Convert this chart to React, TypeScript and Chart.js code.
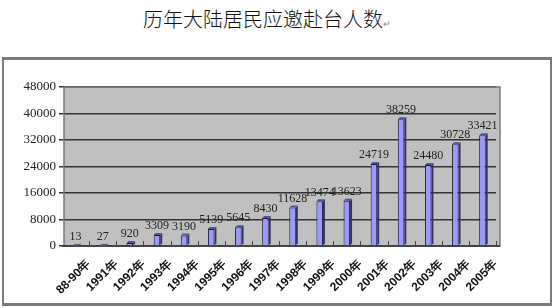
import React, { useEffect, useRef } from "react";
import { Chart, registerables } from "chart.js";

Chart.register(...registerables);

const categories = ["88-90年", "1991年", "1992年", "1993年", "1994年", "1995年", "1996年", "1997年", "1998年", "1999年", "2000年", "2001年", "2002年", "2003年", "2004年", "2005年"];
const visitors = [13, 27, 920, 3309, 3190, 5139, 5645, 8430, 11628, 13474, 13623, 24719, 38259, 24480, 30728, 33421];
const yTicks = [0, 8000, 16000, 24000, 32000, 40000, 48000];
const titleText = "历年大陆居民应邀赴台人数";

const bgPlugin = {
  id: "bgPlugin",
  beforeDraw(chart: any) {
    const { ctx, chartArea: a } = chart;
    ctx.save();
    ctx.fillStyle = "#c0c0c0";
    ctx.fillRect(a.left + 2, a.top, a.right - a.left + 2, a.bottom - a.top);
    ctx.restore();
  },
  beforeDatasetsDraw(chart: any) {
    const { ctx, chartArea: a } = chart;
    ctx.save();
    ctx.strokeStyle = "#7a7a7a";
    ctx.lineWidth = 1.5;
    ctx.strokeRect(a.left + 2, a.top, a.right - a.left + 2, a.bottom - a.top);
    ctx.strokeStyle = "#333";
    ctx.lineWidth = 1.5;
    ctx.beginPath();
    ctx.moveTo(a.left, a.bottom);
    ctx.lineTo(a.right + 4, a.bottom);
    ctx.stroke();
    const xs = chart.scales.x;
    const n = chart.data.labels.length;
    const half = (xs.getPixelForTick(1) - xs.getPixelForTick(0)) / 2;
    ctx.strokeStyle = "#444";
    ctx.lineWidth = 1;
    for (let i = 0; i < n; i++) {
      const x = Math.round(xs.getPixelForTick(i) + half) + 0.5;
      ctx.beginPath();
      ctx.moveTo(x, a.bottom - 5);
      ctx.lineTo(x, a.bottom);
      ctx.stroke();
    }
    ctx.restore();
  },
};

const barDecor = {
  id: "barDecor",
  afterDatasetsDraw(chart: any) {
    const { ctx } = chart;
    const meta = chart.getDatasetMeta(0);
    const data = chart.data.datasets[0].data as number[];
    ctx.save();
    meta.data.forEach((bar: any, i: number) => {
      const w = bar.width;
      const right = bar.x + w / 2;
      const top = bar.y;
      const base = bar.base;
      const d = 2;
      ctx.fillStyle = "#34345e";
      ctx.beginPath();
      ctx.moveTo(right, top);
      ctx.lineTo(right + d, top - d);
      ctx.lineTo(right + d, base - d);
      ctx.lineTo(right, base);
      ctx.closePath();
      ctx.fill();
      ctx.fillStyle = "#55558c";
      ctx.beginPath();
      ctx.moveTo(bar.x - w / 2, top);
      ctx.lineTo(bar.x - w / 2 + d, top - d);
      ctx.lineTo(right + d, top - d);
      ctx.lineTo(right, top);
      ctx.closePath();
      ctx.fill();
      ctx.fillStyle = "#222";
      ctx.font = "12px 'Liberation Serif', serif";
      ctx.textAlign = "center";
      ctx.textBaseline = "bottom";
      ctx.fillText(String(data[i]), bar.x, top - 3);
    });
    ctx.restore();
  },
};

export default function App() {
  const ref = useRef<HTMLCanvasElement | null>(null);
  useEffect(() => {
    if (!ref.current) return;
    const chart = new Chart(ref.current, {
      type: "bar",
      data: {
        labels: categories,
        datasets: [
          {
            data: visitors,
            backgroundColor: "#9999ff",
            borderColor: "#1a1a40",
            borderWidth: 1,
            barPercentage: 0.24,
            categoryPercentage: 1,
          },
        ],
      },
      plugins: [bgPlugin, barDecor],
      options: {
        responsive: false,
        animation: false,
        layout: { padding: { left: 5, right: 58, top: 87, bottom: 4 } },
        plugins: { legend: { display: false }, tooltip: { enabled: false }, title: { display: false } },
        scales: {
          x: {
            grid: { display: false },
            border: { display: false },
            ticks: {
              minRotation: 45,
              maxRotation: 45,
              color: "#111",
              font: { family: "'Liberation Sans', Arial, sans-serif", size: 12, weight: "bold" },
              padding: 3,
              labelOffset: 13,
            },
            afterFit: (s: any) => {
              s.height = 58;
            },
          },
          y: {
            min: 0,
            max: 48000,
            afterBuildTicks: (s: any) => {
              s.ticks = yTicks.map((v) => ({ value: v }));
            },
            grid: { color: "#333", lineWidth: 1.5, drawTicks: true, tickLength: 3 },
            border: { display: false },
            ticks: {
              color: "#222",
              font: { family: "'Liberation Serif', serif", size: 13 },
              padding: 3,
              callback: (v: any) => String(v),
            },
            afterFit: (s: any) => {
              s.width = 57;
            },
          },
        },
      },
    });
    return () => chart.destroy();
  }, []);

  return (
    <div style={{ position: "fixed", left: 0, top: 0, width: 554, height: 308, background: "#fff", overflow: "hidden" }}>
      <div
        style={{
          position: "absolute",
          left: 0,
          top: 7,
          width: 534,
          textAlign: "center",
          fontFamily: "'Noto Sans CJK SC', sans-serif",
          fontWeight: 300,
          fontSize: 20,
          color: "#111",
          lineHeight: "24px",
        }}
      >
        {titleText}
        <span style={{ fontSize: 9, color: "#888" }}>↵</span>
      </div>
      <div
        style={{
          position: "absolute",
          left: 2,
          top: 57,
          width: 546,
          height: 243,
          border: "2px solid #7a7a7a",
          borderTopWidth: 3,
          borderBottomWidth: 3,
        }}
      />
      <canvas ref={ref} width={554} height={308} style={{ position: "absolute", left: 0, top: 0 }} />
    </div>
  );
}
